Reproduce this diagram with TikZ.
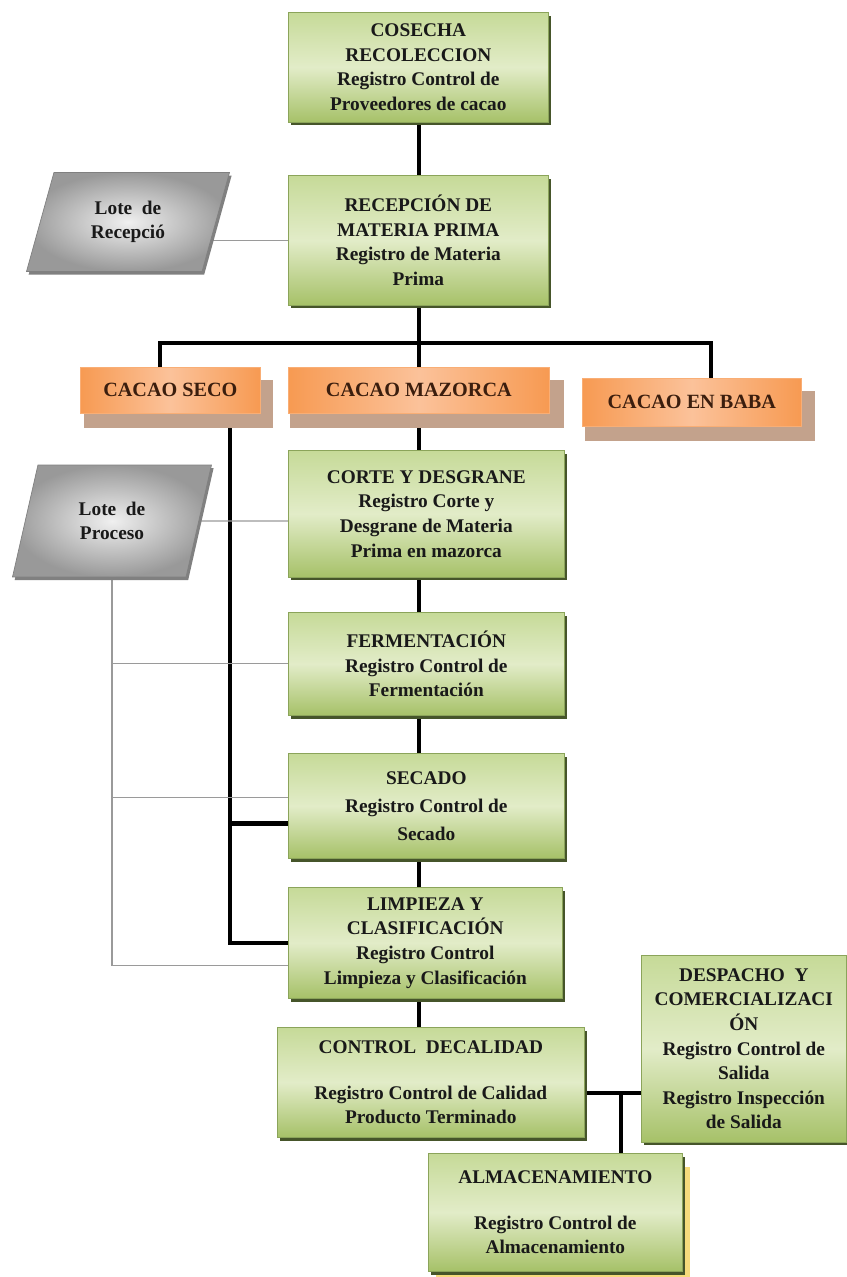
\documentclass[tikz,border=0pt]{standalone}
\usepackage{fontspec}
\setmainfont{Liberation Serif}
\usetikzlibrary{shapes.geometric,shadows,backgrounds}
\definecolor{verdeA}{HTML}{C6DA98}
\definecolor{verdeB}{HTML}{E2ECC8}
\definecolor{verdeC}{HTML}{A6C168}
\definecolor{verdeBorde}{HTML}{8BA45A}
\definecolor{verdeSombra}{HTML}{46552A}
\definecolor{naranjaA}{HTML}{FBC29A}
\definecolor{naranjaB}{HTML}{F79A52}
\definecolor{naranjaSombra}{HTML}{C3A28C}
\definecolor{textoNaranja}{HTML}{3B1E0E}
\definecolor{amarilloSombra}{HTML}{F6DB7C}
\definecolor{gris}{HTML}{9A9A9A}
\tikzset{
  caja/.style={draw=verdeBorde, line width=0.4pt, top color=verdeA, bottom color=verdeC,
    middle color=verdeB, anchor=north west, align=center, inner sep=2pt,
    font=\fontsize{11}{14}\selectfont\bfseries, text=black!90},
  etapa/.style={caja, drop shadow={shadow xshift=1.3pt, shadow yshift=-1.8pt, fill=verdeSombra, opacity=1}},
  almacen/.style={caja, drop shadow={shadow xshift=4.5pt, shadow yshift=-8pt, fill=amarilloSombra, opacity=1},
    drop shadow={shadow xshift=1.3pt, shadow yshift=-1.8pt, fill=verdeSombra, opacity=1}},
  tipo/.style={draw=naranjaB!80, line width=0.4pt, left color=naranjaB, right color=naranjaB,
    middle color=naranjaA, anchor=north west, align=center, inner sep=2pt,
    font=\fontsize{11.5}{14}\selectfont\bfseries, text=textoNaranja,
    drop shadow={shadow xshift=4.5pt, shadow yshift=-7.5pt, shadow scale=1.05, fill=naranjaSombra, opacity=1}},
  lote/.style={trapezium, trapezium left angle=63, trapezium right angle=117,
    trapezium stretches body, draw=gray, line width=0.4pt, shading=radial,
    inner color=gray!12, outer color=gray!80, align=center,
    font=\fontsize{11}{14}\selectfont\bfseries, text=black!90,
    drop shadow={shadow xshift=1.2pt, shadow yshift=-1.8pt, fill=gray, opacity=1}},
  grueso/.style={line width=2.4pt},
  fino/.style={line width=0.6pt, gris},
}
\begin{document}
\begin{tikzpicture}[x=0.02cm, y=-0.02cm]
  \useasboundingbox (0,0) rectangle (846,1277);
  % etapas del proceso
  \node[etapa, minimum width=5.2cm, minimum height=2.2cm] (cosecha) at (288,12)
    {COSECHA\\ RECOLECCION\\ Registro Control de\\ Proveedores de cacao};
  \node[etapa, minimum width=5.2cm, minimum height=2.6cm] (recep) at (288,175)
    {RECEPCIÓN DE\\ MATERIA PRIMA\\ Registro de Materia\\ Prima};
  \node[tipo, minimum width=3.6cm, minimum height=0.92cm] (seco) at (80,367) {CACAO SECO};
  \node[tipo, minimum width=5.22cm, minimum height=0.92cm] (mazorca) at (288,367) {CACAO MAZORCA};
  \node[tipo, minimum width=4.38cm, minimum height=0.96cm] (baba) at (582,378) {CACAO EN BABA};
  \node[etapa, minimum width=5.52cm, minimum height=2.54cm] (corte) at (288,450)
    {CORTE Y DESGRANE\\ Registro Corte y\\ Desgrane de Materia\\ Prima en mazorca};
  \node[etapa, minimum width=5.52cm, minimum height=2.06cm] (ferm) at (288,612)
    {FERMENTACIÓN\\ Registro Control de\\ Fermentación};
  \node[etapa, minimum width=5.52cm, minimum height=2.1cm] (secado) at (288,753)
    {SECADO\\[2pt] Registro Control de\\[2pt] Secado};
  \node[etapa, minimum width=5.48cm, minimum height=2.22cm] (limp) at (288,887)
    {LIMPIEZA Y\\ CLASIFICACIÓN\\ Registro Control\\ Limpieza y Clasificación};
  \node[etapa, minimum width=6.14cm, minimum height=2.2cm] (control) at (277,1027)
    {CONTROL~ DECALIDAD\\[12pt] Registro Control de Calidad\\ Producto Terminado};
  \node[etapa, minimum width=4.1cm, minimum height=3.74cm] (despacho) at (641,955)
    {DESPACHO~ Y\\ COMERCIALIZACI\\ ÓN\\ Registro Control de\\ Salida\\ Registro Inspección\\ de Salida};
  \node[almacen, minimum width=5.08cm, minimum height=2.36cm] (almac) at (428,1153)
    {ALMACENAMIENTO\\[12pt] Registro Control de\\ Almacenamiento};
  % lotes
  \node[lote, minimum width=4.06cm, minimum height=1.98cm] (loteR) at (128,222) {Lote~ de\\ Recepció};
  \node[lote, minimum width=3.98cm, minimum height=2.24cm] (loteP) at (112,521) {Lote~ de\\ Proceso};
  \coordinate (eje) at (419,0);
  \coordinate (colS) at (230,0);
  \coordinate (colA) at (621,0);
  \coordinate (busI) at (160,343);
  \coordinate (busD) at (711,343);
  \coordinate (secT) at ([yshift=-10pt]secado.west);
  \coordinate (secF) at ([yshift=4.5pt]secado.west);
  \coordinate (limT) at ([yshift=-13pt]limp.west);
  \coordinate (ctrlT) at ([yshift=-6pt]control.east);
  \begin{scope}[on background layer]
    \draw[grueso] (cosecha.south -| eje) -- (recep.north -| eje);
    \draw[grueso] (recep.south -| eje) -- (mazorca.north -| eje);
    \draw[grueso] (seco.north -| busI) -- (busI) -- (busD) -- (baba.north -| busD);
    \draw[grueso] (mazorca.south -| eje) -- (corte.north -| eje);
    \draw[grueso] (corte.south -| eje) -- (ferm.north -| eje);
    \draw[grueso] (ferm.south -| eje) -- (secado.north -| eje);
    \draw[grueso] (secado.south -| eje) -- (limp.north -| eje);
    \draw[grueso] (limp.south -| eje) -- (control.north -| eje);
    \draw[grueso] (seco.south -| colS) |- (limp.west);
    \draw[grueso] (secT) -- (secT -| colS);
    \draw[grueso] (ctrlT) -- (ctrlT -| despacho.west);
    \draw[grueso] (ctrlT -| colA) -- (almac.north -| colA);
    \draw[fino] (loteR.center |- recep.west) -- (recep.west);
    \draw[fino] (loteP) -- (loteP -| corte.west);
    \draw[fino] (loteP.south) |- (limT);
    \draw[fino] (ferm.west) -- (ferm.west -| loteP.south);
    \draw[fino] (secF) -- (secF -| loteP.south);
  \end{scope}
\end{tikzpicture}
\end{document}
